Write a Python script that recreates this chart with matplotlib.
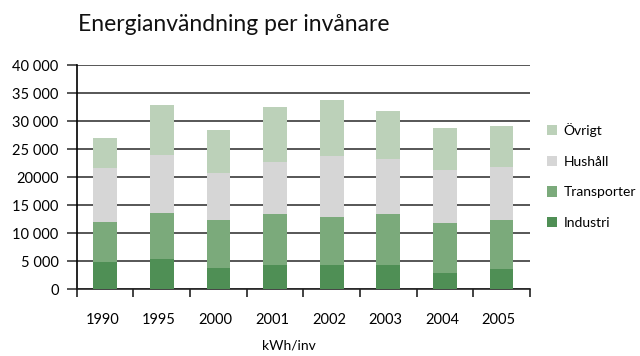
import numpy as np
import matplotlib
matplotlib.use("Agg")
import matplotlib.pyplot as plt
from matplotlib.ticker import FixedLocator, NullFormatter

# données (kWh/inv)
annees = ["1990", "1995", "2000", "2001", "2002", "2003", "2004", "2005"]
industri = [4800, 5400, 3800, 4300, 4300, 4300, 2900, 3600]
transporter = [7200, 8200, 8500, 9100, 8600, 9100, 8900, 8700]
hushall = [9700, 10300, 8400, 9300, 10850, 9800, 9450, 9500]
ovrigt = [5300, 9000, 7700, 9800, 10000, 8600, 7500, 7300]

yticks = [0, 5000, 10000, 15000, 20000, 25000, 30000, 35000, 40000]
ytick_labels = ["0", "5 000", "10 000", "15 000", "20000", "25 000",
                "30 000", "35 000", "40 000"]

series = [
    ("Industri", industri, "#4f8f55"),
    ("Transporter", transporter, "#7baa7b"),
    ("Hushåll", hushall, "#d6d6d6"),
    ("Övrigt", ovrigt, "#bcd1b9"),
]

plt.rcParams['font.family'] = ['Lato', 'DejaVu Sans']

fig = plt.figure(figsize=(6.4, 3.56), dpi=100)
ax = fig.add_axes([0.12, 0.188, 0.708, 0.629])

x = np.arange(len(annees))
bas = np.zeros(len(annees))
for nom, vals, couleur in series:
    ax.bar(x, vals, width=0.42, bottom=bas, color=couleur, label=nom, zorder=3)
    bas += np.array(vals)

ax.set_xlim(-0.5, len(annees) - 0.5)
ax.set_ylim(0, 40000)
ax.set_yticks(yticks)
ax.set_yticklabels(ytick_labels, fontsize=10.5)
ax.yaxis.grid(True, color="#3a3a3a", linewidth=1.2, zorder=0)

# graduations entre les catégories
ax.set_xticks(x - 0.05)
ax.set_xticklabels(annees, fontsize=10.5)
ax.tick_params(axis="x", length=0, pad=17)
ax.xaxis.set_minor_locator(FixedLocator(np.arange(-0.5, len(annees), 1.0)))
ax.xaxis.set_minor_formatter(NullFormatter())
ax.tick_params(axis="x", which="minor", length=6, width=1.2, color="#222222")
ax.tick_params(axis="y", length=7, width=1.2, color="#3a3a3a", pad=6)

for s in ["top", "right"]:
    ax.spines[s].set_visible(False)
ax.spines["left"].set_color("black")
ax.spines["left"].set_linewidth(1.2)
ax.spines["bottom"].set_color("#222222")
ax.spines["bottom"].set_linewidth(1.2)

fig.text(0.452, 0.03, "kWh/inv", fontsize=10, ha="center", va="center")

fig.text(0.122, 0.932, "Energianvändning per invånare", fontsize=16.5,
         ha="left", va="center", color="#111111")

handles, labels = ax.get_legend_handles_labels()
ax.legend(handles[::-1], labels[::-1], loc="center left",
          bbox_to_anchor=(1.025, 0.505), frameon=False, fontsize=10,
          handlelength=0.75, handleheight=0.75, handletextpad=0.45,
          labelspacing=1.35, borderaxespad=0)

fig.savefig("out.png", dpi=100)
